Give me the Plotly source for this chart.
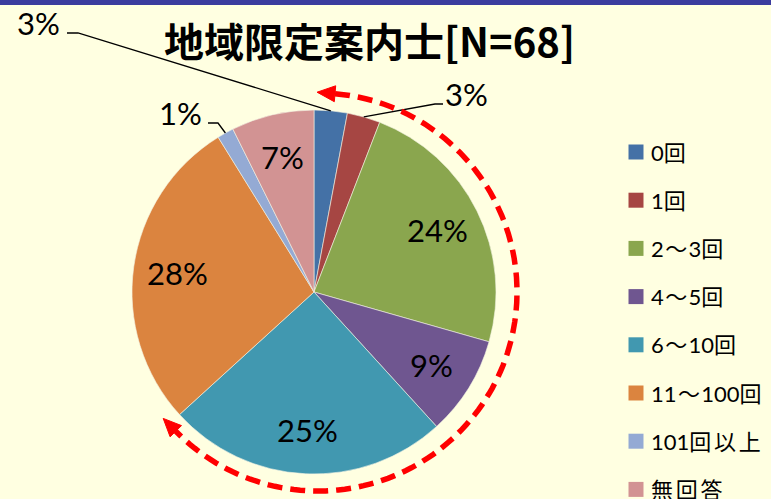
import math
import plotly.graph_objects as go

# ---- data ----
title_text = "地域限定案内士[N=68]"
categories = ["0回", "1回", "2〜3回", "4〜5回", "6〜10回", "11〜100回", "101回以上", "無回答"]
counts = [2, 2, 16, 6, 17, 19, 1, 5]
colors = ["#4471A6", "#A64643", "#8AA64E", "#6F5690", "#4198B0", "#DB843F", "#94AAD4", "#D29393"]

# ---- layout constants (pixels) ----
W, H = 771, 499
BG = "#FFFFE1"
CX, CY, R = 314, 292, 182
LABEL_FONT = "Lato, Liberation Sans, sans-serif"
CJK_FONT = "Noto Sans CJK JP"

total = sum(counts)
fracs = [c / total for c in counts]
cum = [sum(fracs[:i]) for i in range(len(fracs))]
mids = [(cum[i] + fracs[i] / 2) * 360 for i in range(len(fracs))]

def pt(theta_deg, r, cx=CX, cy=CY):
    t = math.radians(theta_deg)
    return cx + r * math.sin(t), cy - r * math.cos(t)

def spaced(s):
    # widen full-width glyphs slightly, as in the original
    out = []
    for ch in s:
        if ch == "〜":
            out.append("\u200a〜\u200a")
        elif ord(ch) > 127:
            out.append(ch + "\u2009")
        else:
            out.append(ch)
    return "".join(out)

fig = go.Figure()

# hidden pixel axes for overlay drawing
fig.add_trace(go.Scatter(x=[0, W], y=[0, H], mode="markers", marker=dict(opacity=0),
                         hoverinfo="skip", showlegend=False))

fig.add_trace(go.Pie(
    labels=categories, values=counts, sort=False, direction="clockwise", rotation=0,
    marker=dict(colors=colors, line=dict(color="#F4F4E4", width=0.6)),
    textinfo="none", showlegend=False, hoverinfo="label+percent",
    domain=dict(x=[(CX - R) / W, (CX + R) / W], y=[1 - (CY + R) / H, 1 - (CY - R) / H]),
))

annotations = []
shapes = []

# percentage labels
outside = {0: dict(label=(38, 23), elbow=(78, 33), end=(67, 33)),
           1: dict(label=(466, 94), elbow=(435, 104), end=(443, 104)),
           6: dict(label=(180, 113), elbow=(218, 123), end=(208, 123))}
for i, f in enumerate(fracs):
    txt = f"{round(f * 100)}%"
    if i in outside:
        o = outside[i]
        ex, ey = pt(mids[i], R)
        shapes.append(dict(type="path", xref="x", yref="y",
                           path=f"M {ex:.1f},{ey:.1f} L {o['elbow'][0]},{o['elbow'][1]} L {o['end'][0]},{o['end'][1]}",
                           line=dict(color="black", width=1.3), layer="above"))
        annotations.append(dict(x=o["label"][0], y=o["label"][1], xref="x", yref="y", text=txt,
                                showarrow=False, font=dict(family=LABEL_FONT, size=31, color="black")))
    else:
        lx, ly = pt(mids[i], 0.76 * R)
        annotations.append(dict(x=lx, y=ly, xref="x", yref="y", text=txt, showarrow=False,
                                font=dict(family=LABEL_FONT, size=31, color="black")))

# title
annotations.append(dict(x=369, y=40, xref="x", yref="y", text=f"<b>{title_text}</b>", showarrow=False,
                        font=dict(family=CJK_FONT, size=40, color="black")))

# custom legend
LEG_X, LEG_Y0, LEG_DY = 636, 152, 48.2
for i, (cat, col) in enumerate(zip(categories, colors)):
    y = LEG_Y0 + i * LEG_DY
    shapes.append(dict(type="rect", xref="x", yref="y", x0=LEG_X - 7.5, x1=LEG_X + 7.5,
                       y0=y - 7.5, y1=y + 7.5, fillcolor=col, line=dict(width=0), layer="above"))
    annotations.append(dict(x=LEG_X + 13, y=y, xref="x", yref="y", text=spaced(cat), showarrow=False,
                            xanchor="left", font=dict(family="Lato, " + CJK_FONT, size=22, color="black")))

# dashed red arc with arrowheads
ACX, ACY, AR = 318, 292, 199
th1, th2 = 4.9, 225.6
n = 120
pts = [pt(th1 + (th2 - th1) * k / n, AR, ACX, ACY) for k in range(n + 1)]
path = "M " + " L ".join(f"{x:.1f},{y:.1f}" for x, y in pts)
shapes.append(dict(type="path", xref="x", yref="y", path=path,
                   line=dict(color="#FF0000", width=5.5, dash="15px,8px"), layer="above"))

def arrowhead(theta, sign, L=18, hw=8):
    bx, by = pt(theta, AR, ACX, ACY)
    t = math.radians(theta)
    tx, ty = math.cos(t) * sign, math.sin(t) * sign
    nx, ny = -ty, tx
    tipx, tipy = bx + L * tx, by + L * ty
    return (f"M {tipx:.1f},{tipy:.1f} L {bx + hw * nx:.1f},{by + hw * ny:.1f} "
            f"L {bx - hw * nx:.1f},{by - hw * ny:.1f} Z")

for th, s in [(th1, -1), (th2, 1)]:
    shapes.append(dict(type="path", xref="x", yref="y", path=arrowhead(th, s),
                       fillcolor="#FF0000", line=dict(color="#FF0000", width=1), layer="above"))

# top blue band
shapes.append(dict(type="rect", xref="paper", yref="paper", x0=0, x1=1, y0=1 - 5 / H, y1=1,
                   fillcolor="#3B3C9E", line=dict(width=0), layer="above"))

fig.update_layout(
    width=W, height=H, margin=dict(l=0, r=0, t=0, b=0),
    paper_bgcolor=BG, plot_bgcolor=BG, showlegend=False,
    xaxis=dict(range=[0, W], visible=False, fixedrange=True),
    yaxis=dict(range=[H, 0], visible=False, fixedrange=True),
    annotations=annotations, shapes=shapes,
)
fig.write_html("out.html", config={"displayModeBar": False},
               post_script="document.body.style.margin='0';document.body.style.overflow='hidden';")
